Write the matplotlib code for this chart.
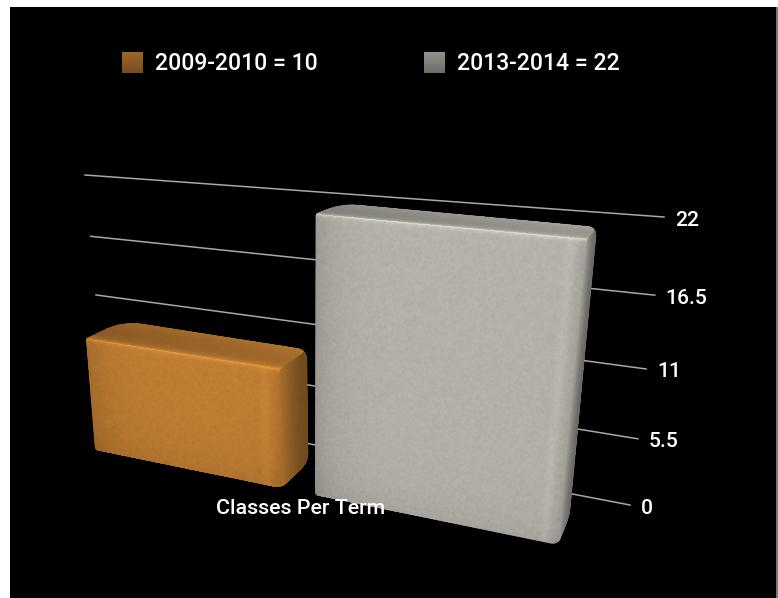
"""Perspective bar chart of classes per term with shaded metal bars."""
import matplotlib
matplotlib.use("Agg")
import matplotlib.pyplot as plt
import numpy as np
from matplotlib.patches import PathPatch, Rectangle
from matplotlib.path import Path

CATEGORY = "Classes Per Term"
PERIODS = ["2009-2010", "2013-2014"]
VALUES = [10, 22]
TICKS = [0, 5.5, 11, 16.5, 22]
TICK_LABELS = ["0", "5.5", "11", "16.5", "22"]

BAR_COLORS = [np.array([190, 124, 50]) / 255, np.array([179, 176, 168]) / 255]
BAR_SPANS = [(0.0, 0.448), (0.522, 1.0)]
VMAX = TICKS[-1]

plt.rcParams["font.family"] = ["Roboto", "DejaVu Sans"]


def fit_homography(src, dst):
    a, b = [], []
    for (u, v), (x, y) in zip(src, dst):
        a.append([u, v, 1, 0, 0, 0, -u * x, -v * x])
        a.append([0, 0, 0, u, v, 1, -u * y, -v * y])
        b += [x, y]
    h = np.linalg.solve(np.array(a, float), np.array(b, float))
    return np.append(h, 1).reshape(3, 3)


def project(h, u, v):
    w = h[2, 0] * u + h[2, 1] * v + h[2, 2]
    return ((h[0, 0] * u + h[0, 1] * v + h[0, 2]) / w,
            (h[1, 0] * u + h[1, 1] * v + h[1, 2]) / w)


CORNERS = [(0, 0), (1, 0), (1, VMAX), (0, VMAX)]
# front plane of the bars and the wall carrying the gridlines
FRONT = fit_homography(CORNERS, [(95, 450), (558, 545), (587, 239), (74, 191.5)])
WALL = fit_homography(CORNERS, [(106, 405), (630, 505), (664, 217), (85, 175)])
VANISH = np.array([770.0, 20.0])
DEPTH = 0.055


def bar_point(u, v, d):
    x, y = project(FRONT, u, v)
    t = DEPTH * d
    return x + (VANISH[0] - x) * t, y + (VANISH[1] - y) * t


def grain(ny, nx, seed):
    # deterministic speckle, softened so it reads as brushed paint
    j, i = np.meshgrid(np.arange(nx), np.arange(ny))
    g = np.sin(i * 12.9898 + j * 78.233 + seed) * 43758.5453
    g = g - np.floor(g) - 0.5
    for ax_ in (0, 1):
        g = (g + np.roll(g, 1, ax_) + np.roll(g, -1, ax_)) / 3
    return g * 0.11


def rounded_outline(points, radii):
    verts, codes = [], []
    n = len(points)
    for k in range(n):
        p = np.array(points[k], float)
        prev = np.array(points[k - 1], float)
        nxt = np.array(points[(k + 1) % n], float)
        r = radii[k]
        a = p + (prev - p) / np.linalg.norm(prev - p) * r
        b = p + (nxt - p) / np.linalg.norm(nxt - p) * r
        verts += [a, p, b]
        codes += [Path.MOVETO if k == 0 else Path.LINETO, Path.CURVE3, Path.CURVE3]
    verts.append(verts[0])
    codes.append(Path.CLOSEPOLY)
    return Path(np.array(verts), codes)


def paint(ax, x, y, shade, base, clip):
    rgb = np.clip(shade[..., None] * base, 0, 1)
    mesh = ax.pcolormesh(x, y, rgb, shading="flat", antialiased=False,
                         linewidth=0, zorder=3)
    mesh.set_clip_path(clip)


def draw_bar(ax, span, value, base, seed):
    u0, u1 = span
    outline = [bar_point(u0, value, 0), bar_point(u0, value, 1), bar_point(u1, value, 1),
               bar_point(u1, 0, 1), bar_point(u1, 0, 0), bar_point(u0, 0, 0)]
    clip = PathPatch(rounded_outline(outline, [2, 20, 10, 10, 8, 3]),
                     facecolor=base * 0.8, edgecolor="none", zorder=2)
    ax.add_patch(clip)

    # front face
    width = bar_point(u1, value, 0)[0] - bar_point(u0, value, 0)[0]
    height = bar_point(u1, 0, 0)[1] - bar_point(u1, value, 0)[1]
    nx, ny = int(width), int(height)
    uu, vv = np.meshgrid(np.linspace(u0, u1, nx + 1), np.linspace(0, value, ny + 1))
    x, y = bar_point(uu, vv, 0)
    s, t = np.meshgrid((np.arange(nx) + 0.5) / nx, (np.arange(ny) + 0.5) / ny)
    left, right = s * width, (1 - s) * width
    bottom, top = t * height, (1 - t) * height
    shade = (1.0 - 0.14 * np.exp(-left / 24) - 0.07 * np.exp(-bottom / 22)
             - 0.10 * np.exp(-right / 9) + 0.05 * np.exp(-((right - 14) / 5) ** 2)
             + 0.28 * np.exp(-top / 1.6) + 0.02 * (t - 0.5)
             + grain(ny, nx, seed))
    paint(ax, x, y, shade, base, clip)

    # right side
    nd = 30
    vv, dd = np.meshgrid(np.linspace(0, value, ny + 1), np.linspace(0, 1, nd + 1), indexing="ij")
    x, y = bar_point(u1, vv, dd)
    d = (np.arange(nd) + 0.5) / nd
    shade = np.tile(0.88 - 0.40 * d + 0.12 * d ** 4, (ny, 1)) + grain(ny, nd, seed + 1) * 0.6
    paint(ax, x, y, shade, base, clip)

    # top face
    uu, dd = np.meshgrid(np.linspace(u0, u1, nx + 1), np.linspace(0, 1, nd + 1))
    x, y = bar_point(uu, value, dd)
    s, d = np.meshgrid((np.arange(nx) + 0.5) / nx, (np.arange(nd) + 0.5) / nd)
    shade = (0.72 + 0.12 * s + 0.30 * np.exp(-d / 0.1) + 0.1 * d ** 3
             + grain(nd, nx, seed + 2) * 0.5)
    paint(ax, x, y, shade, base, clip)


def draw_swatch(ax, x0, y0, base):
    xs, ys = np.meshgrid(np.linspace(x0, x0 + 21, 2), np.linspace(y0, y0 + 21, 22))
    shade = np.linspace(0.82, 0.62, 21)[:, None]
    ax.pcolormesh(xs, ys, shade[..., None] * base, shading="flat", antialiased=False)


fig = plt.figure(figsize=(7.78, 5.98), dpi=100, facecolor="white")
ax = fig.add_axes([0, 0, 1, 1])
ax.set_xlim(0, 778)
ax.set_ylim(598, 0)
ax.axis("off")
ax.add_patch(Rectangle((10, 7), 766, 591, facecolor="black", edgecolor="none", zorder=0))
ax.add_patch(Rectangle((776, 7), 2, 591, facecolor="#777777", edgecolor="none", zorder=0))

for tick, label in zip(TICKS, TICK_LABELS):
    x, y = project(WALL, np.array([0.0, 1.0]), np.array([tick, tick]))
    ax.plot(x, y, color="#a8a8a8", lw=1.1, zorder=1)
    ax.text(x[1] + 11, y[1] + 3, label, color="white", fontsize=15.2, fontweight="medium",
            ha="left", va="center", zorder=5)

for span, value, base, seed in zip(BAR_SPANS, VALUES, BAR_COLORS, (1.3, 4.7)):
    draw_bar(ax, span, value, base, seed)

for period, value, base, x0 in zip(PERIODS, VALUES, BAR_COLORS, (122, 424)):
    draw_swatch(ax, x0, 52, base)
    ax.text(x0 + 33, 63.5, f"{period} = {value}", color="white", fontsize=16.6, fontweight="medium",
            ha="left", va="center", zorder=5)

ax.text(301, 508, CATEGORY, color="white", fontsize=15.4, fontweight="medium",
        ha="center", va="center", zorder=6)

fig.savefig("out.png", dpi=100, facecolor="white")
